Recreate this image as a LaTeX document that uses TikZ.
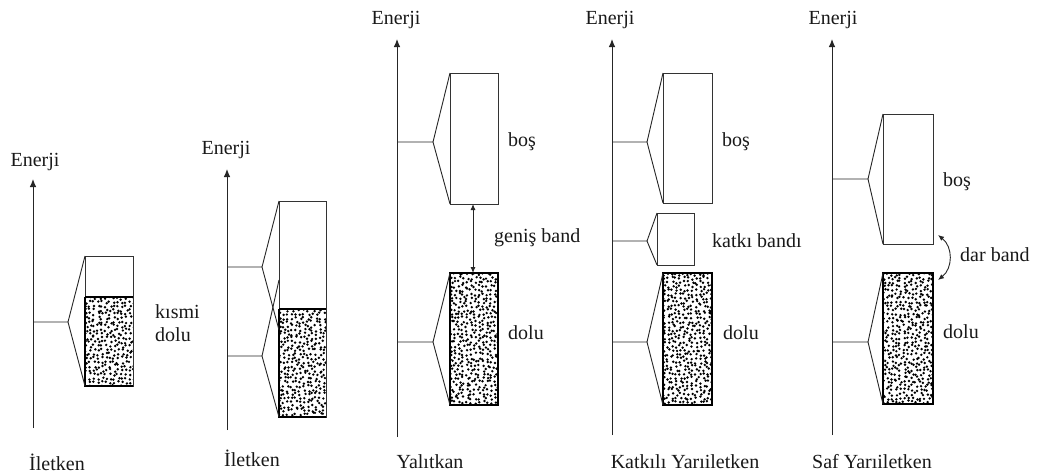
\documentclass[tikz,border=0pt]{standalone}
\usepackage{fontspec}
\setmainfont{Liberation Serif}
\usetikzlibrary{arrows.meta}
\newcommand{\speckle}[4]{%
  \begin{scope}
    \clip (#1,#2) rectangle ++(#3,#4);
    \foreach \xx in {0,4,...,#3}{
      \foreach \yy in {0,4,...,#4}{
        \fill[black] ({#1+\xx-0.5+3.2*rnd},{#2+\yy-0.5+3.2*rnd}) circle (1.35);
      }
    }
  \end{scope}}
\begin{document}
\begin{tikzpicture}[x=1pt,y=-1pt,
  ln/.style={draw=black!85,line width=0.9pt},
  axis/.style={draw=black!85,line width=0.9pt,-{Latex[length=8pt,width=6.5pt]}},
  bandbox/.style={draw=black!80,line width=0.9pt},
  fullbox/.style={draw=black,line width=1.1pt},
  lbl/.style={font=\fontsize{20}{22}\selectfont,text=black!90,inner sep=0pt},
  lblw/.style={lbl,anchor=west}]
\pgfmathsetseed{7}
\useasboundingbox (0,0) rectangle (1040,475);
\fill[white] (0,0) rectangle (1040,475);

% ---------------- Panel 1
\coordinate (a1b) at (33,428); \coordinate (a1t) at (33,179);
\draw[axis] (a1b) -- (a1t);
\node[lbl] (e1) at (35,162) {Enerji};
\node[lbl] (t1) at (57,462) {İletken};
\coordinate (p1) at (33,322); \coordinate (f1) at (68,322);
\coordinate (b1tl) at (85,256); \coordinate (b1br) at (133,386);
\coordinate (b1bl) at (85,386);
\speckle{85}{297}{48}{89}
\draw[bandbox] (b1tl) rectangle (b1br);
\draw[fullbox] (85,297) -- (133,297);
\draw[fullbox] (85,297) -- (b1bl) -- (b1br);
\draw[ln] (p1) -- (f1) -- (b1tl);
\draw[ln] (f1) -- (b1bl);
\node[lblw] (k1) at (155,312) {kısmi};
\node[lblw] (d1) at (155,335) {dolu};

% ---------------- Panel 2
\coordinate (a2b) at (227,430); \coordinate (a2t) at (227,169);
\draw[axis] (a2b) -- (a2t);
\node[lbl] (e2) at (226,150) {Enerji};
\node[lbl] (t2) at (252,458) {İletken};
\speckle{279}{309}{47}{108}
\coordinate (b2tl) at (279,201); \coordinate (b2br) at (326,417);
\draw[bandbox] (b2tl) rectangle (b2br);
\draw[fullbox] (279,309) -- (326,309);
\draw[fullbox] (279,309) -- (279,417) -- (b2br);
\coordinate (p2a) at (227,267); \coordinate (f2a) at (262,267);
\coordinate (p2b) at (227,356); \coordinate (f2b) at (262,356);
\coordinate (u2a) at (279,201); \coordinate (u2b) at (279,330);
\coordinate (l2a) at (279,280); \coordinate (l2b) at (279,417);
\draw[ln] (p2a) -- (f2a) -- (u2a);
\draw[ln] (f2a) -- (u2b);
\draw[ln] (p2b) -- (f2b) -- (l2a);
\draw[ln] (f2b) -- (l2b);

% ---------------- Panel 3
\coordinate (a3b) at (397,437); \coordinate (a3t) at (397,39);
\draw[axis] (a3b) -- (a3t);
\node[lbl] (e3) at (396,20) {Enerji};
\node[lbl] (t3) at (430,462) {Yalıtkan};
\coordinate (u3tl) at (450,73); \coordinate (u3br) at (498,204);
\draw[bandbox] (u3tl) rectangle (u3br);
\coordinate (p3a) at (397,142); \coordinate (f3a) at (433,142);
\draw[ln] (p3a) -- (f3a) -- (u3tl);
\draw[ln] (f3a) -- (450,204);
\speckle{450}{273}{48}{132}
\coordinate (l3tl) at (450,273); \coordinate (l3br) at (498,405);
\draw[fullbox] (l3tl) rectangle (l3br);
\coordinate (p3b) at (397,342); \coordinate (f3b) at (433,342);
\draw[ln] (p3b) -- (f3b) -- (l3tl);
\draw[ln] (f3b) -- (450,405);
\coordinate (g3a) at (473,204); \coordinate (g3b) at (473,273);
\draw[ln,{Latex[length=6pt,width=5pt]}-{Latex[length=6pt,width=5pt]}] (g3a) -- (g3b);
\node[lblw] (bo3) at (508,142) {boş};
\node[lblw] (gb3) at (494,238) {geniş band};
\node[lblw] (do3) at (508,333) {dolu};

% ---------------- Panel 4
\coordinate (a4b) at (612,435); \coordinate (a4t) at (612,39);
\draw[axis] (a4b) -- (a4t);
\node[lbl] (e4) at (610,20) {Enerji};
\node[lbl] (t4) at (685,462) {Katkılı Yarıiletken};
\coordinate (u4tl) at (663,73); \coordinate (u4br) at (712,203);
\draw[bandbox] (u4tl) rectangle (u4br);
\coordinate (p4a) at (612,142); \coordinate (f4a) at (647,142);
\draw[ln] (p4a) -- (f4a) -- (u4tl);
\draw[ln] (f4a) -- (663,203);
\coordinate (m4tl) at (657,213); \coordinate (m4br) at (694,265);
\draw[bandbox] (m4tl) rectangle (m4br);
\coordinate (p4m) at (612,241); \coordinate (f4m) at (647,241);
\draw[ln] (p4m) -- (f4m) -- (m4tl);
\draw[ln] (f4m) -- (657,265);
\speckle{663}{273}{49}{132}
\coordinate (l4tl) at (663,273); \coordinate (l4br) at (712,405);
\draw[fullbox] (l4tl) rectangle (l4br);
\coordinate (p4b) at (612,342); \coordinate (f4b) at (647,342);
\draw[ln] (p4b) -- (f4b) -- (l4tl);
\draw[ln] (f4b) -- (663,405);
\node[lblw] (bo4) at (722,142) {boş};
\node[lblw] (kb4) at (712,241) {katkı bandı};
\node[lblw] (do4) at (723,333) {dolu};

% ---------------- Panel 5
\coordinate (a5b) at (832,435); \coordinate (a5t) at (832,39);
\draw[axis] (a5b) -- (a5t);
\node[lbl] (e5) at (833,20) {Enerji};
\node[lbl] (t5) at (872,462) {Saf Yarıiletken};
\coordinate (u5tl) at (883,114); \coordinate (u5br) at (933,244);
\draw[bandbox] (u5tl) rectangle (u5br);
\coordinate (p5a) at (832,179); \coordinate (f5a) at (868,179);
\draw[ln] (p5a) -- (f5a) -- (u5tl);
\draw[ln] (f5a) -- (883,244);
\speckle{883}{273}{50}{131}
\coordinate (l5tl) at (883,273); \coordinate (l5br) at (933,404);
\draw[fullbox] (l5tl) rectangle (l5br);
\coordinate (p5b) at (832,342); \coordinate (f5b) at (868,342);
\draw[ln] (p5b) -- (f5b) -- (l5tl);
\draw[ln] (f5b) -- (883,404);
\coordinate (c5a) at (938,235); \coordinate (c5b) at (938,280);
\draw[ln,{Latex[length=6pt,width=5pt]}-{Latex[length=6pt,width=5pt]}]
  (c5a) .. controls (953,247) and (953,268) .. (c5b);
\node[lblw] (bo5) at (943,182) {boş};
\node[lblw] (db5) at (960,255) {dar band};
\node[lblw] (do5) at (943,332) {dolu};
\end{tikzpicture}
\end{document}
